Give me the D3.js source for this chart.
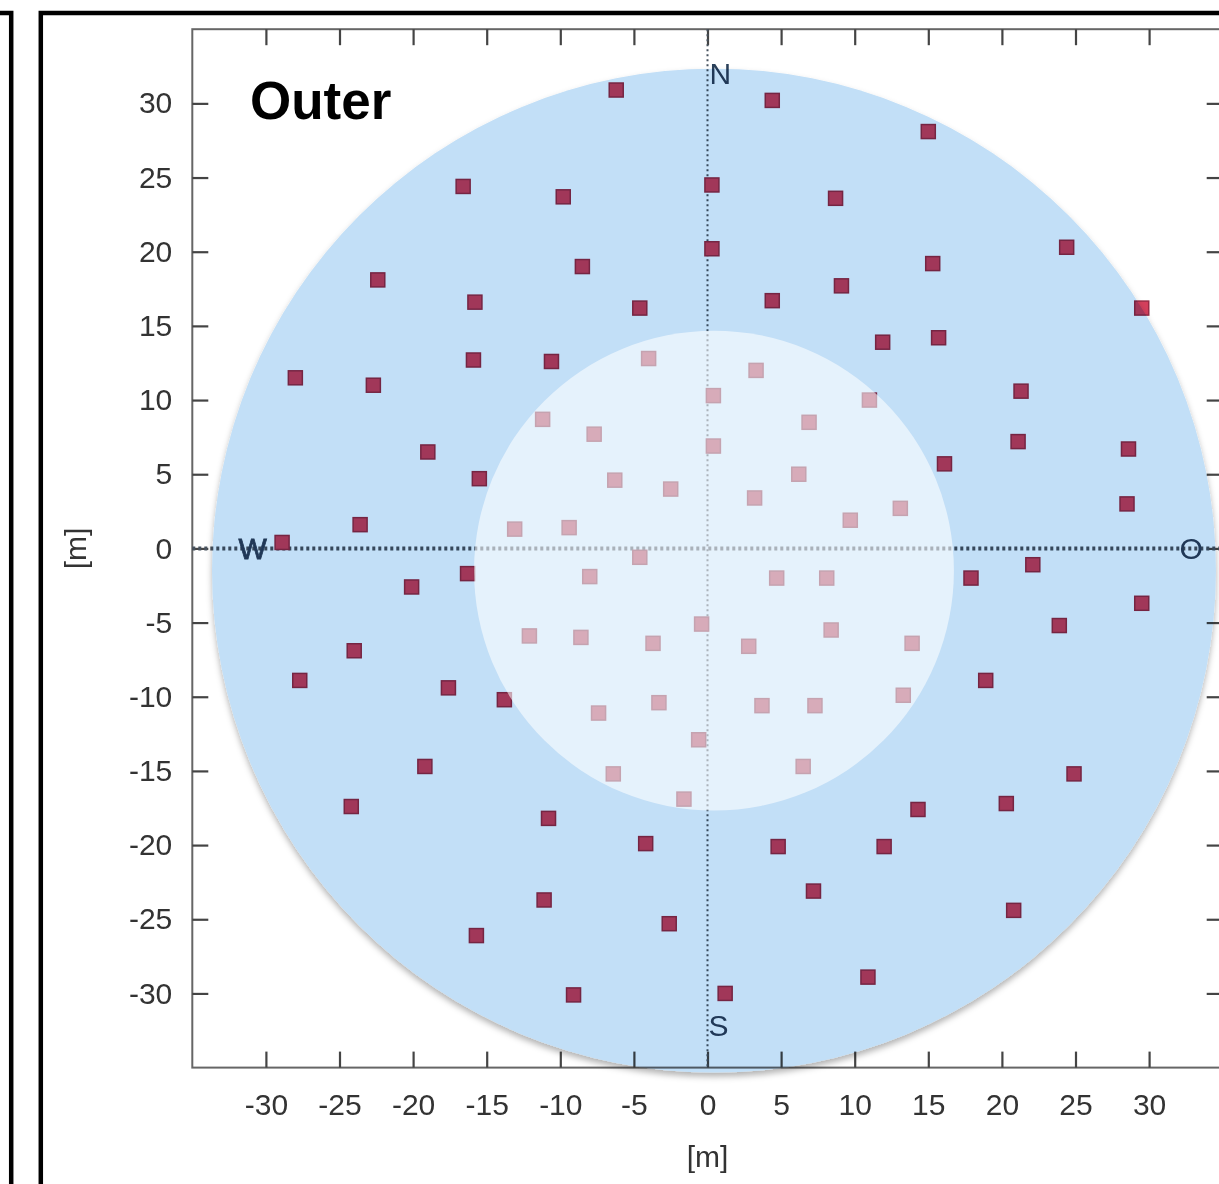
<!DOCTYPE html>
<html>
<head>
<meta charset="utf-8">
<script src="https://cdn.jsdelivr.net/npm/d3@7"></script>
<style>
  html, body { margin: 0; padding: 0; background: #fff; }
  svg { display: block; }
</style>
</head>
<body>
<svg id="chart" width="1219" height="1184"></svg>
<script>
// Station positions in metres (east/west, north/south)
const stationX = [
  -6.2, 4.4, 15.0, -16.6, -9.8, 0.3, 8.7, 24.4, 0.3, -22.4, -8.5, 15.3, 9.1, -15.8, -4.6, 4.4,
  29.5, 11.9, 15.7, -28.0, -22.7, -15.9, -10.6, 21.3, -19.0, 21.1, 28.6, 16.1, -15.5, 28.5,
  -23.6, -28.9, -16.3, -20.1, 17.9, 22.1, 29.5, 23.9, -24.0, -27.7, -17.6, -13.8, 18.9, -19.2,
  24.9, -24.2, -10.8, 14.3, 20.3, -4.2, 4.8, 12.0, -11.1, 7.2, 20.8, -15.7, -2.6, 10.9, -9.1, 1.2,
  -4.0, 3.3, -11.2, -7.7, 0.4, 11.0, 6.9, 0.4, -6.3, -2.5, 3.2, 6.2, 13.1, 9.7, -13.1, -9.4,
  -4.6, -8.0, 4.7, 8.1, -12.1, -8.6, -3.7, -0.4, 2.8, 8.4, 13.9, -7.4, -3.3, 3.7, 7.3, 13.3,
  -0.6, -6.4, 6.5, -1.6
];
const stationY = [
  30.9, 30.2, 28.1, 24.4, 23.7, 24.5, 23.6, 20.3, 20.2, 18.1, 19.0, 19.2, 17.7, 16.6, 16.2, 16.7,
  16.2, 13.9, 14.2, 11.5, 11.0, 12.7, 12.6, 10.6, 6.5, 7.2, 6.7, 5.7, 4.7, 3.0,
  1.6, 0.4, -1.7, -2.6, -2.0, -1.1, -3.7, -5.2, -6.9, -8.9, -9.4, -10.2, -8.9, -14.7,
  -15.2, -17.4, -18.2, -17.6, -17.2, -19.9, -20.1, -20.1, -23.7, -23.1, -24.4, -26.1, -25.3, -28.9, -30.1, -30.0,
  12.8, 12.0, 8.7, 7.7, 10.3, 10.0, 8.5, 6.9, 4.6, 4.0, 3.4, 5.0, 2.7, 1.9, 1.3, 1.4,
  -0.6, -1.9, -2.0, -2.0, -5.9, -6.0, -6.4, -5.1, -6.6, -5.5, -6.4, -11.1, -10.4, -10.6, -10.6, -9.9,
  -12.9, -15.2, -14.7, -16.9
];

const xTicks = [-30, -25, -20, -15, -10, -5, 0, 5, 10, 15, 20, 25, 30];
const yTicks = [-30, -25, -20, -15, -10, -5, 0, 5, 10, 15, 20, 25, 30];

// Shaded zones: common centre and radii (metres)
const zoneCenter = [0.44, -1.5];
const outerZoneRadius = 34.1;
const innerZoneRadius = 16.3;

const compassLabels = ["N", "W", "O", "S"];
const panelTitle = "Outer";
const axisUnit = "[m]";

const svg = d3.select("#chart");
const x = d3.scaleLinear().domain([-35, 35]).range([192.3, 1222.7]);
const y = d3.scaleLinear().domain([-35, 35]).range([1067.6, 29.2]);

const font = "'Liberation Sans', Arial, Helvetica, sans-serif";

// Panel frames
svg.append("rect").attr("x", -200).attr("y", 13).attr("width", 211.2).attr("height", 1400)
  .attr("fill", "none").attr("stroke", "#000").attr("stroke-width", 4.5);
svg.append("rect").attr("x", 40.8).attr("y", 13).attr("width", 1400).attr("height", 1400)
  .attr("fill", "none").attr("stroke", "#000").attr("stroke-width", 4.5);

const defs = svg.append("defs");
const shadow = defs.append("filter").attr("id", "zoneShadow")
  .attr("x", "-10%").attr("y", "-10%").attr("width", "120%").attr("height", "120%");
shadow.append("feDropShadow").attr("dx", 0).attr("dy", 4).attr("stdDeviation", 3)
  .attr("flood-color", "#000").attr("flood-opacity", 0.3);

const plot = svg.append("g");

// Plot border
plot.append("rect")
  .attr("x", x(-35)).attr("y", y(35))
  .attr("width", x(35) - x(-35)).attr("height", y(-35) - y(35))
  .attr("fill", "none").attr("stroke", "#666").attr("stroke-width", 2);

const tickLen = 16;
function styleAxis(g, showText) {
  g.select(".domain").remove();
  g.selectAll(".tick line").attr("stroke", "#444").attr("stroke-width", 2.2);
  if (!showText) g.selectAll(".tick text").remove();
  else g.selectAll(".tick text")
    .attr("font-family", font).attr("font-size", 30).attr("fill", "#333");
}
const fmt = d => String(d);

plot.append("g").attr("transform", `translate(0,${y(-35)})`)
  .call(d3.axisBottom(x).tickValues(xTicks).tickSizeInner(-tickLen).tickSizeOuter(0)
    .tickPadding(26).tickFormat(fmt))
  .call(g => styleAxis(g, true));
plot.append("g").attr("transform", `translate(0,${y(35)})`)
  .call(d3.axisTop(x).tickValues(xTicks).tickSizeInner(-tickLen).tickSizeOuter(0))
  .call(g => styleAxis(g, false));
plot.append("g").attr("transform", `translate(${x(-35)},0)`)
  .call(d3.axisLeft(y).tickValues(yTicks).tickSizeInner(-tickLen).tickSizeOuter(0)
    .tickPadding(20).tickFormat(fmt))
  .call(g => styleAxis(g, true));
plot.append("g").attr("transform", `translate(${x(35)},0)`)
  .call(d3.axisRight(y).tickValues(yTicks).tickSizeInner(-tickLen).tickSizeOuter(0))
  .call(g => styleAxis(g, false));

// Cross-hair through the origin
plot.append("line")
  .attr("x1", x(-35)).attr("x2", x(35)).attr("y1", y(0)).attr("y2", y(0))
  .attr("stroke", "#47525e").attr("stroke-width", 4).attr("stroke-dasharray", "3 3");
plot.append("line")
  .attr("x1", x(0)).attr("x2", x(0)).attr("y1", y(35)).attr("y2", y(-35))
  .attr("stroke", "#47525e").attr("stroke-width", 2).attr("stroke-dasharray", "2 3");

// Stations
const markSize = 14;
plot.append("g").selectAll("rect")
  .data(d3.range(stationX.length))
  .join("rect")
  .attr("x", i => x(stationX[i]) - markSize / 2)
  .attr("y", i => y(stationY[i]) - markSize / 2)
  .attr("width", markSize).attr("height", markSize)
  .attr("fill", "#d43f5c").attr("stroke", "#9a2a45").attr("stroke-width", 1.5);

// Compass directions
const compass = plot.append("g")
  .attr("font-family", font).attr("font-size", 30).attr("fill", "#2a405a");
compass.append("text").text(compassLabels[0])
  .attr("x", x(0) + 2).attr("y", y(31.3));
compass.append("text").text(compassLabels[1])
  .attr("x", x(-30.9)).attr("y", y(0)).attr("dy", "0.36em").attr("text-anchor", "middle")
  .attr("stroke", "#2a405a").attr("stroke-width", 0.8);
compass.append("text").text(compassLabels[2])
  .attr("x", x(32.85)).attr("y", y(0)).attr("dy", "0.36em").attr("text-anchor", "middle");
compass.append("text").text(compassLabels[3])
  .attr("x", x(0) + 1).attr("y", y(-32.9));

// Outer zone (tinted) and inner zone (whitened)
const rPx = r => x(r) - x(0);
plot.append("circle")
  .attr("cx", x(zoneCenter[0])).attr("cy", y(zoneCenter[1]))
  .attr("r", rPx(outerZoneRadius))
  .attr("fill", "#c2dff7")
  .attr("filter", "url(#zoneShadow)")
  .style("mix-blend-mode", "multiply");
plot.append("circle")
  .attr("cx", x(zoneCenter[0])).attr("cy", y(zoneCenter[1]))
  .attr("r", rPx(innerZoneRadius))
  .attr("fill", "#fff").attr("fill-opacity", 0.58);

// Title
svg.append("text").text(panelTitle)
  .attr("x", 250).attr("y", 119)
  .attr("font-family", font).attr("font-weight", "bold").attr("font-size", 53).attr("fill", "#000");

// Axis unit labels
svg.append("text").text(axisUnit)
  .attr("x", x(0)).attr("y", 1167).attr("text-anchor", "middle")
  .attr("font-family", font).attr("font-size", 30).attr("fill", "#333");
svg.append("text").text(axisUnit)
  .attr("transform", `translate(86,${y(0)}) rotate(-90)`).attr("text-anchor", "middle")
  .attr("font-family", font).attr("font-size", 30).attr("fill", "#333");
</script>
</body>
</html>
